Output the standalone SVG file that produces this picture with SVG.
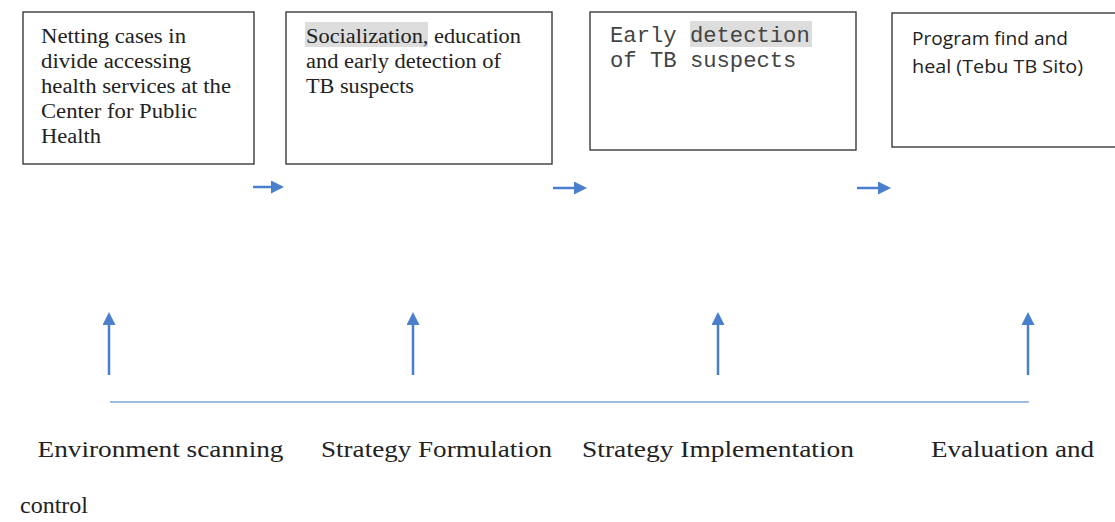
<svg xmlns="http://www.w3.org/2000/svg" width="1115" height="522" viewBox="0 0 1115 522">
<style>
.box{fill:#fff;stroke:#3a3a3a;stroke-width:1.4}
.serif{font-family:"Liberation Serif","Times New Roman",serif;fill:#222}
.mono{font-family:"Liberation Mono","Courier New",monospace;fill:#444}
.sans{font-family:"Open Sans","Liberation Sans",sans-serif;fill:#222}
.hl{fill:#dddddd}
.arr{stroke:#4a7fcc;stroke-width:2.5;fill:none}
.base{stroke:#7fa6dc;stroke-width:1.5;fill:none}
</style>
<defs>
<marker id="ah" markerWidth="13" markerHeight="13" refX="1" refY="6.5" orient="auto" markerUnits="userSpaceOnUse" viewBox="0 0 13 13">
<path d="M0,0 L13,6.5 L0,13 z" fill="#4a7fcc"/>
</marker>
</defs>
<rect width="1115" height="522" fill="#fff"/>
<g id="node1">
<rect class="box" x="23" y="12" width="231" height="152"/>
<text class="serif" font-size="20" lengthAdjust="spacingAndGlyphs">
<tspan x="41" y="43" textLength="145" lengthAdjust="spacingAndGlyphs">Netting cases in</tspan>
<tspan x="41" y="68" textLength="150" lengthAdjust="spacingAndGlyphs">divide accessing</tspan>
<tspan x="41" y="93" textLength="190" lengthAdjust="spacingAndGlyphs">health services at the</tspan>
<tspan x="41" y="118" textLength="156" lengthAdjust="spacingAndGlyphs">Center for Public</tspan>
<tspan x="41" y="143" textLength="60" lengthAdjust="spacingAndGlyphs">Health</tspan>
</text>
</g>
<g id="node2">
<rect class="box" x="286" y="12" width="266" height="152"/>
<rect class="hl" x="305" y="22" width="123" height="25"/>
<text class="serif" font-size="20">
<tspan x="306" y="43" textLength="215" lengthAdjust="spacingAndGlyphs">Socialization, education</tspan>
<tspan x="306" y="68" textLength="195" lengthAdjust="spacingAndGlyphs">and early detection of</tspan>
<tspan x="306" y="93" textLength="108" lengthAdjust="spacingAndGlyphs">TB suspects</tspan>
</text>
</g>
<g id="node3">
<rect class="box" x="590" y="12" width="266" height="138"/>
<rect class="hl" x="690" y="21" width="122" height="26"/>
<text class="mono" font-size="22.2"><tspan x="610" y="41.5">Early detection</tspan><tspan x="610" y="66.5">of TB suspects</tspan></text>
</g>
<g id="node4">
<rect class="box" x="892" y="13" width="240" height="134"/>
<text class="sans" font-size="19">
<tspan x="912" y="45" textLength="156" lengthAdjust="spacingAndGlyphs">Program find and</tspan>
<tspan x="912" y="73" textLength="171" lengthAdjust="spacingAndGlyphs">heal (Tebu TB Sito)</tspan>
</text>
</g>
<g id="connectors">
<line class="arr" x1="253" y1="187" x2="272" y2="187" marker-end="url(#ah)"/>
<line class="arr" x1="553" y1="188" x2="575" y2="188" marker-end="url(#ah)"/>
<line class="arr" x1="857" y1="188" x2="879" y2="188" marker-end="url(#ah)"/>
<line class="arr" x1="109" y1="375" x2="109" y2="324" marker-end="url(#ah)"/>
<line class="arr" x1="413" y1="375" x2="413" y2="324" marker-end="url(#ah)"/>
<line class="arr" x1="718" y1="375" x2="718" y2="324" marker-end="url(#ah)"/>
<line class="arr" x1="1028" y1="375" x2="1028" y2="324" marker-end="url(#ah)"/>
<line class="base" x1="110" y1="402" x2="1029" y2="402"/>
</g>
<g id="labels" class="serif" font-size="24">
<text x="37.5" y="457" textLength="246" lengthAdjust="spacingAndGlyphs">Environment scanning</text>
<text x="321" y="457" textLength="231" lengthAdjust="spacingAndGlyphs">Strategy Formulation</text>
<text x="582" y="457" textLength="272" lengthAdjust="spacingAndGlyphs">Strategy Implementation</text>
<text x="931" y="457" textLength="163" lengthAdjust="spacingAndGlyphs">Evaluation and</text>
<text x="20" y="513" textLength="68" lengthAdjust="spacingAndGlyphs">control</text>
</g>
</svg>
